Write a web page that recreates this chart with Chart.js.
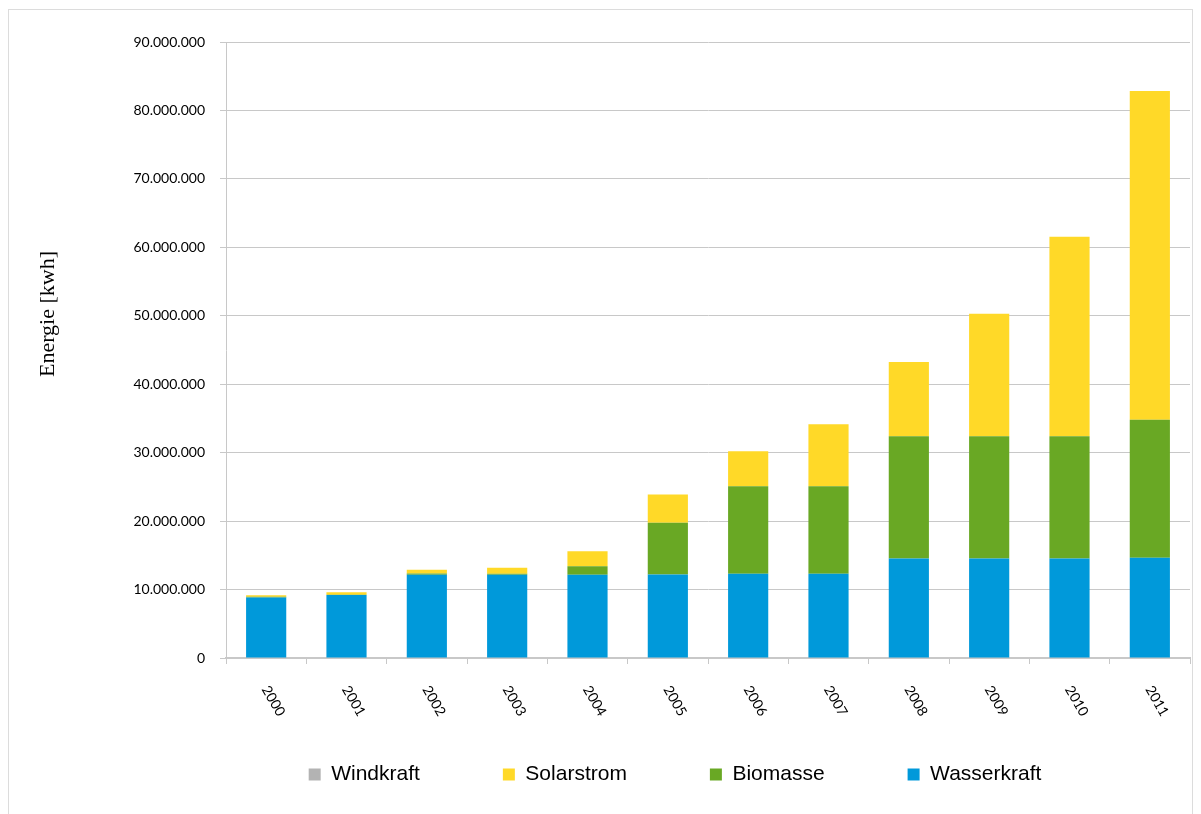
<!DOCTYPE html>
<html lang="de">
<head>
    <meta charset="UTF-8">
    <title>Erneuerbare Energie</title>
    <script src="https://cdn.jsdelivr.net/npm/chart.js"></script>
    <style>
        body {
            margin: 0;
            background: #fff;
        }

        #rahmen {
            position: absolute;
            left: 8px;
            top: 9px;
            width: 1183px;
            height: 820px;
            border: 1px solid #dcdcdc;
        }

        #chart {
            position: absolute;
            left: 0;
            top: 0;
        }
    </style>
</head>
<body>
    <div id="rahmen"></div>
    <canvas id="chart" width="1201" height="814"></canvas>

    <script>
        // Jahre und erzeugte Energie pro Quelle in kWh
        const jahre = ["2000", "2001", "2002", "2003", "2004", "2005", "2006", "2007", "2008", "2009", "2010", "2011"];
        const wasserkraft = [8850000, 9200000, 12150000, 12150000, 12150000, 12200000, 12300000, 12300000, 14550000, 14550000, 14550000, 14650000];
        const biomasse = [100000, 50000, 200000, 150000, 1250000, 7550000, 12800000, 12800000, 17850000, 17850000, 17850000, 20150000];
        const solarstrom = [200000, 350000, 550000, 900000, 2200000, 4150000, 5100000, 9050000, 10850000, 17900000, 29150000, 48050000];
        const windkraft = [0, 0, 0, 0, 0, 0, 0, 0, 0, 0, 0, 0];

        const yMax = 90000000;
        const yStep = 10000000;

        function tausender(v) {
            return String(v).replace(/\B(?=(\d{3})+(?!\d))/g, ".");
        }

        // Legende etwas nach rechts schieben (Mitte unter dem Diagramm)
        const legendeVersatz = {
            id: "legendeVersatz",
            afterLayout(chart) {
                chart.legend.left = 160;
            }
        };

        // Jahreszahlen schräg unter der Achse und Achsentitel links
        const beschriftung = {
            id: "beschriftung",
            afterDraw(chart) {
                const ctx = chart.ctx;
                const x = chart.scales.x;
                ctx.save();
                ctx.fillStyle = "#000";
                ctx.font = "14px Lato";
                ctx.textAlign = "left";
                ctx.textBaseline = "middle";
                jahre.forEach((j, i) => {
                    ctx.save();
                    ctx.translate(x.getPixelForValue(i) - 1, x.top + 29);
                    ctx.rotate(Math.PI / 3);
                    ctx.fillText(j, 0, 0);
                    ctx.restore();
                });

                ctx.font = "22px 'Liberation Serif'";
                ctx.textAlign = "center";
                ctx.translate(48, 314);
                ctx.rotate(-Math.PI / 2);
                ctx.fillText("Energie [kwh]", 0, 0);
                ctx.restore();
            }
        };

        new Chart(document.getElementById("chart"), {
            type: "bar",
            data: {
                labels: jahre,
                datasets: [
                    { label: "Wasserkraft", data: wasserkraft, backgroundColor: "#0099da" },
                    { label: "Biomasse", data: biomasse, backgroundColor: "#69a824" },
                    { label: "Solarstrom", data: solarstrom, backgroundColor: "#ffd928" },
                    { label: "Windkraft", data: windkraft, backgroundColor: "#b3b3b3" }
                ]
            },
            options: {
                responsive: false,
                animation: false,
                layout: {
                    padding: { top: 42, right: 11, bottom: 19, left: 0 }
                },
                datasets: {
                    bar: {
                        categoryPercentage: 1,
                        barPercentage: 0.5,
                        borderWidth: 0
                    }
                },
                plugins: {
                    tooltip: { enabled: false },
                    legend: {
                        position: "bottom",
                        reverse: true,
                        labels: {
                            boxWidth: 12,
                            boxHeight: 12,
                            padding: 83,
                            color: "#000",
                            font: { family: "'Liberation Sans', Arial", size: 21 }
                        }
                    }
                },
                scales: {
                    x: {
                        stacked: true,
                        afterFit(scale) { scale.height = 23; },
                        ticks: { display: false },
                        grid: {
                            offset: true,
                            drawOnChartArea: false,
                            drawTicks: true,
                            tickLength: 6,
                            color: "#c8c8c8"
                        },
                        border: { color: "#c8c8c8", width: 2 }
                    },
                    y: {
                        stacked: true,
                        min: 0,
                        max: yMax,
                        afterFit(scale) { scale.width = 226; },
                        ticks: {
                            stepSize: yStep,
                            padding: 15,
                            color: "#000",
                            font: { family: "Lato", size: 14 },
                            callback: (v) => tausender(v)
                        },
                        grid: {
                            color: "#c8c8c8",
                            tickLength: 6
                        },
                        border: { color: "#c8c8c8" }
                    }
                }
            },
            plugins: [legendeVersatz, beschriftung]
        });
    </script>
</body>
</html>
